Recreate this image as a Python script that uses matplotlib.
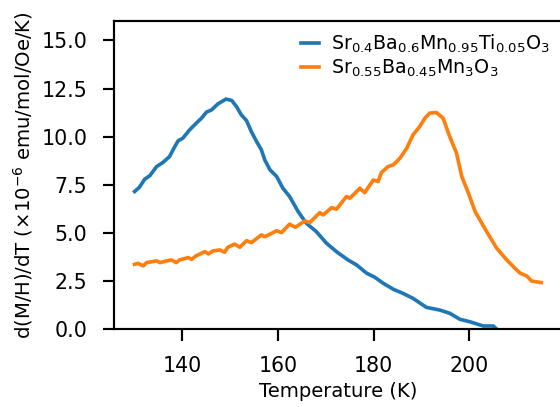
import numpy as np
import matplotlib
matplotlib.use("Agg")
import matplotlib.pyplot as plt

# values
temp_ti = [130.0, 131.0, 132.1, 133.2, 134.6, 135.9, 137.3, 138.4, 139.1, 140.1,
           141.5, 142.9, 144.0, 145.0, 146.1, 147.4, 149.1, 150.3, 151.3, 152.3,
           153.4, 154.4, 155.5, 156.5, 157.2, 158.3, 159.7, 161.0, 162.4, 164.2,
           165.9, 168.0, 170.1, 172.2, 174.6, 176.4, 178.5, 180.2, 182.0, 184.1,
           186.1, 188.2, 191.0, 193.8, 195.9, 198.0, 200.1, 202.9, 205.0, 205.8]
dmdt_ti = [7.14, 7.36, 7.78, 7.97, 8.44, 8.65, 8.96, 9.48, 9.78, 9.92,
           10.35, 10.70, 10.96, 11.27, 11.39, 11.70, 11.95, 11.88, 11.56, 11.13,
           10.83, 10.26, 9.74, 9.31, 8.79, 8.27, 7.92, 7.31, 6.88, 6.09,
           5.49, 5.05, 4.45, 4.01, 3.58, 3.32, 2.89, 2.68, 2.36, 2.05,
           1.84, 1.58, 1.11, 0.97, 0.80, 0.49, 0.36, 0.14, 0.14, -0.05]

temp_mn = [130.0, 130.7, 131.8, 132.5, 134.6, 135.3, 136.7, 137.7, 138.7, 139.4,
           141.2, 141.9, 142.9, 144.7, 145.4, 146.4, 147.8, 148.8, 149.5, 150.9,
           152.0, 153.4, 154.4, 156.5, 157.2, 158.3, 159.7, 160.7, 162.4, 163.6,
           165.6, 166.6, 168.7, 169.4, 171.2, 172.2, 174.3, 175.0, 177.1, 178.1,
           179.9, 180.9, 181.6, 183.0, 184.1, 185.5, 186.9, 188.2, 189.6, 190.7,
           191.7, 193.1, 194.5, 195.6, 196.3, 197.3, 198.4, 199.8, 201.2, 202.2,
           203.6, 205.7, 207.8, 209.5, 210.6, 212.0, 213.0, 215.0]
dmdt_mn = [3.35, 3.40, 3.27, 3.44, 3.53, 3.44, 3.53, 3.58, 3.44, 3.58,
           3.70, 3.61, 3.80, 4.01, 3.89, 4.05, 4.10, 3.98, 4.24, 4.40,
           4.24, 4.58, 4.48, 4.88, 4.79, 4.92, 5.10, 5.00, 5.44, 5.28,
           5.61, 5.52, 6.04, 5.92, 6.30, 6.22, 6.88, 6.79, 7.31, 7.08,
           7.74, 7.66, 8.13, 8.44, 8.53, 8.88, 9.40, 10.09, 10.52, 10.96,
           11.22, 11.25, 10.96, 10.18, 9.74, 9.14, 7.92, 7.05, 6.09, 5.66,
           5.05, 4.19, 3.58, 3.15, 2.89, 2.74, 2.48, 2.40]

label_ti = r'Sr$_{0.4}$Ba$_{0.6}$Mn$_{0.95}$Ti$_{0.05}$O$_3$'
label_mn = r'Sr$_{0.55}$Ba$_{0.45}$Mn$_3$O$_3$'

plt.rcParams['font.family'] = ['DejaVu Sans']
plt.rcParams['mathtext.fontset'] = 'dejavusans'
plt.rcParams['mathtext.default'] = 'regular'

fig = plt.figure(figsize=(560 / 120, 407 / 120), dpi=120)
ax = fig.add_axes([0.2041, 0.1924, 0.7986, 0.7553])

ax.plot(temp_ti, dmdt_ti, color='#1f77b4', lw=2.2, label=label_ti)
ax.plot(temp_mn, dmdt_mn, color='#ff7f0e', lw=2.2, label=label_mn)

ax.set_ylim(0, 16)
ax.set_xticks([140, 160, 180, 200])
ax.set_yticks(np.arange(0, 15.1, 2.5))
ax.tick_params(labelsize=12.3, length=6.9, width=1.3, pad=9.2)
for s in ax.spines.values():
    s.set_linewidth(1.3)

ax.set_xlabel('Temperature (K)', fontsize=11.8, labelpad=4)
ax.set_ylabel(r'd(M/H)/dT ($\times10^{-6}$ emu/mol/Oe/K)', fontsize=11.8, labelpad=4)

ax.legend(loc='upper right', frameon=False, fontsize=11.4, handlelength=0.93,
          handletextpad=0.65, labelspacing=0.12, borderaxespad=0.2, borderpad=0.4)

fig.savefig('out.png', dpi=120)
